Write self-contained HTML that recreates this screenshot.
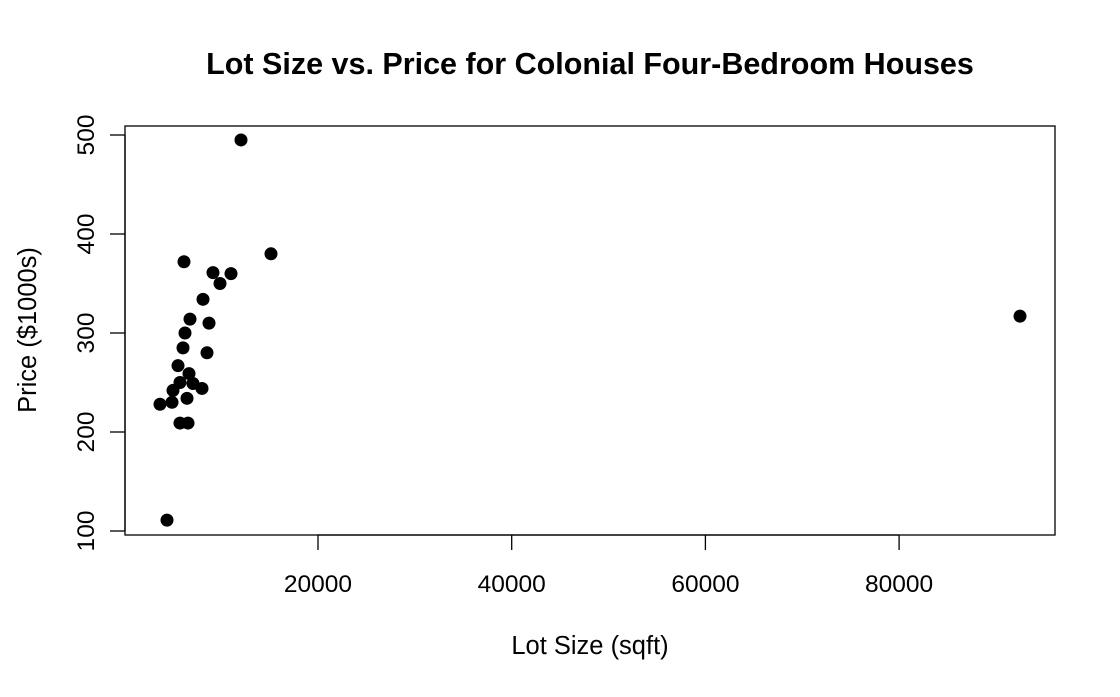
<!DOCTYPE html>
<html><head><meta charset="utf-8"><style>
body{margin:0;background:#fff}
svg text{font-family:"Liberation Sans",sans-serif;fill:#000}
</style></head><body>
<svg width="1120" height="692" viewBox="0 0 1120 692" xmlns="http://www.w3.org/2000/svg">
<text x="590" y="74" font-size="30.5" font-weight="bold" text-anchor="middle">Lot Size vs. Price for Colonial Four-Bedroom Houses</text>
<rect x="125" y="126" width="930" height="409" fill="none" stroke="#000" stroke-width="1.3"/>
<g id="xaxis"></g>
<g id="yaxis"></g>
<g id="points"></g>
<text x="590" y="654" font-size="25.5" text-anchor="middle">Lot Size (sqft)</text>
<text transform="translate(36,330) rotate(-90)" font-size="25.5" text-anchor="middle">Price ($1000s)</text>
</svg>
<script>
const lotSize = [6164,15147,9159,11017,9881,8126,6784,8746,6267,6061,8539,5545,6680,5751,7093,8023,5028,6474,4925,3686,5751,6577,4409,12050,92484];
const price = [372,380,361,360,350,334,314,310,300,285,280,267,259,250,249,244,242,234,230,228,209,209,111,495,317];
const xTicks = [20000,40000,60000,80000];
const yTicks = [100,200,300,400,500];
const NS="http://www.w3.org/2000/svg";
function xs(v){return 124.3+v*0.009685;}
function ys(v){return 135+(500-v)*0.99;}
function mk(tag,attrs,parent){const e=document.createElementNS(NS,tag);for(const k in attrs)e.setAttribute(k,attrs[k]);parent.appendChild(e);return e;}
const xa=document.getElementById('xaxis'),ya=document.getElementById('yaxis'),pg=document.getElementById('points');
mk('line',{x1:xs(xTicks[0]),x2:xs(xTicks[xTicks.length-1]),y1:535,y2:535,stroke:'#000','stroke-width':1.3},xa);
xTicks.forEach(t=>{
  const l=mk('line',{x1:xs(t),x2:xs(t),y1:535,y2:550,stroke:'#000','stroke-width':1.3},xa);
  
  
  const tx=mk('text',{x:xs(t),y:592,'font-size':24.5,'text-anchor':'middle'},xa);tx.textContent=t;
  
  
});
mk('line',{x1:125,x2:125,y1:ys(yTicks[0]),y2:ys(yTicks[yTicks.length-1]),stroke:'#000','stroke-width':1.3},ya);
yTicks.forEach(t=>{
  const l=mk('line',{x1:110,x2:125,y1:ys(t),y2:ys(t),stroke:'#000','stroke-width':1.3},ya);
  
  
  const tx=mk('text',{transform:`translate(94,${ys(t)}) rotate(-90)`,'font-size':24.5,'text-anchor':'middle'},ya);tx.textContent=t;
  
  
});
lotSize.forEach((v,i)=>{
  const c=mk('circle',{cx:xs(v),cy:ys(price[i]),r:6.5,fill:'#000'},pg);
  
  
});
</script>
</body></html>
